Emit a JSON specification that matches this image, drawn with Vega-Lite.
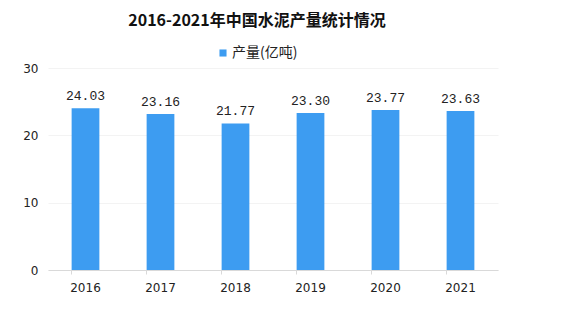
{
  "$schema": "https://vega.github.io/schema/vega-lite/v6.json",
  "autosize": {"type": "none"},
  "width": 450,
  "height": 202,
  "padding": {"left": 48, "top": 68, "right": 66, "bottom": 56},
  "background": "white",
  "title": {
    "text": "2016-2021年中国水泥产量统计情况",
    "font": "Noto Sans CJK SC",
    "fontSize": 16,
    "fontWeight": "bold",
    "color": "#111111",
    "anchor": "middle",
    "dx": -16,
    "offset": 17
  },
  "data": {
    "values": [
      {"year": "2016", "series": "产量(亿吨)", "value": 24.03},
      {"year": "2017", "series": "产量(亿吨)", "value": 23.16},
      {"year": "2018", "series": "产量(亿吨)", "value": 21.77},
      {"year": "2019", "series": "产量(亿吨)", "value": 23.30},
      {"year": "2020", "series": "产量(亿吨)", "value": 23.77},
      {"year": "2021", "series": "产量(亿吨)", "value": 23.63}
    ]
  },
  "config": {
    "view": {"stroke": null},
    "axis": {"labelFont": "DejaVu Sans", "labelFontSize": 12, "labelColor": "#222222", "titleFontSize": 12}
  },
  "encoding": {
    "x": {
      "field": "year", "type": "nominal",
      "scale": {"paddingInner": 0.63, "paddingOuter": 0.315},
      "axis": {
        "title": null, "labelAngle": 0, "labelPadding": 8,
        "domainColor": "#D9D9D9", "tickColor": "#D9D9D9", "tickSize": 4,
        "bandPosition": 0, "grid": false
      }
    },
    "y": {
      "field": "value", "type": "quantitative",
      "scale": {"domain": [0, 30]},
      "axis": {
        "title": null, "values": [0, 10, 20, 30], "domain": false, "ticks": false,
        "labelPadding": 10, "grid": true, "gridColor": "#F3F3F3"
      }
    }
  },
  "layer": [
    {
      "mark": {"type": "bar", "color": "#3D9CF1"},
      "encoding": {
        "color": {
          "field": "series", "type": "nominal",
          "scale": {"range": ["#3D9CF1"]},
          "legend": {
            "title": null, "orient": "none", "legendX": 168, "legendY": -22,
            "symbolType": "square", "symbolSize": 50, "symbolStrokeWidth": 0,
            "labelFont": "Noto Sans CJK SC", "labelFontSize": 14, "labelColor": "#222222",
            "labelOffset": 2
          }
        }
      }
    },
    {
      "mark": {"type": "text", "baseline": "bottom", "dy": -5, "font": "Liberation Mono", "fontSize": 13, "color": "#222222"},
      "encoding": {
        "text": {"field": "value", "type": "quantitative", "format": ".2f"}
      }
    }
  ]
}
